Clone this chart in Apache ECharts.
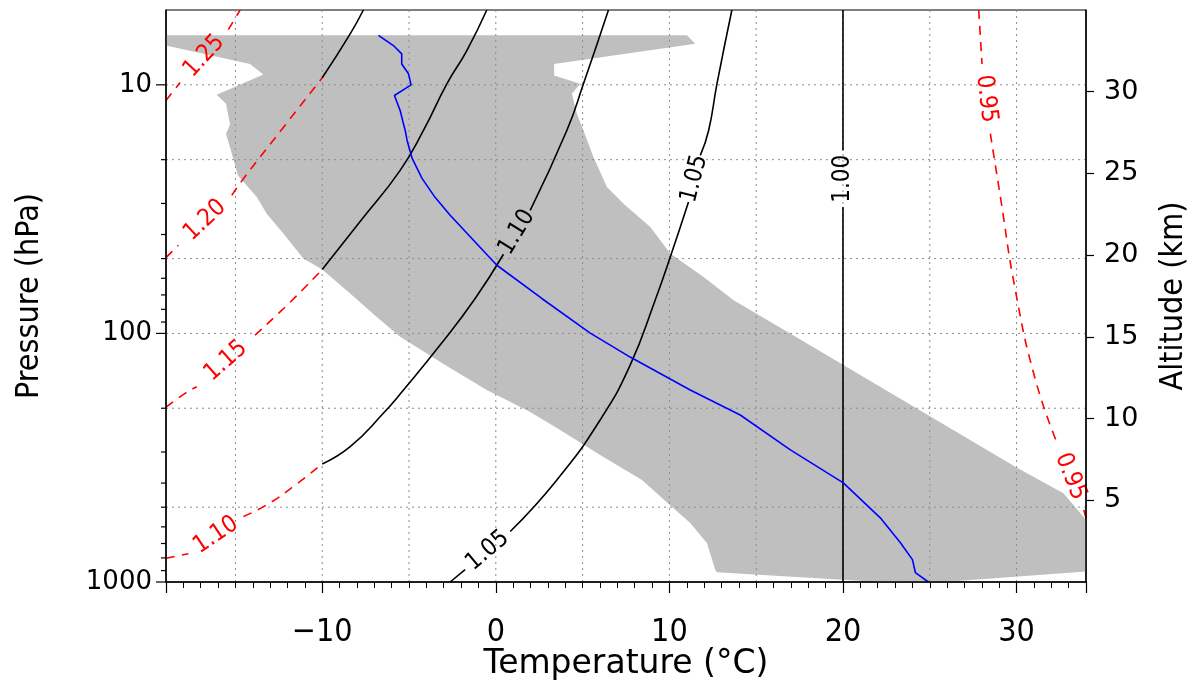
<!DOCTYPE html>
<html>
<head>
<meta charset="utf-8">
<title>Temperature profile</title>
<script src="https://cdn.jsdelivr.net/npm/echarts@6/dist/echarts.min.js"></script>
<style>
    html, body { margin: 0; padding: 0; background: #fff; }
    #chart { width: 1191px; height: 680px; }
</style>
</head>
<body>
<div id="chart"></div>
<script>
    // axis ranges
    const tMin = -19, tMax = 34;          // temperature (°C)
    const pTop = 5, pSfc = 1000;          // pressure (hPa)
    const zTop = 35;                      // altitude (km)

    // dotted grid lines and left-axis ticks
    const gridT = [-15, -10, -5, 0, 5, 10, 15, 20, 25, 30];
    const gridP = [10, 20, 50, 100, 200, 500];
    const pMajorTicks = [10, 100, 1000];
    const pMinorTicks = [20, 30, 40, 50, 60, 70, 80, 90, 200, 300, 400, 500, 600, 700, 800, 900];

    // grey envelope: left edge (top -> bottom), bottom edge, right edge (top -> bottom)
    const envLeft = [[-19, 6.32], [-19, 6.95], [-14.16, 8.24], [-13.39, 9.09], [-16.08, 10.97], [-15.54, 11.92],
        [-15.31, 14.43], [-15.54, 15.73], [-14.85, 23.14], [-13.77, 28.28], [-13.2, 32.97], [-12.24, 39.67],
        [-11.09, 50.0], [-10, 55.3], [-8.39, 69.1], [-6.86, 85.8], [-5.51, 103.2], [-2.92, 134.1], [-0.52, 168.9],
        [0.25, 179.7], [1.98, 207.1], [3.71, 244.6], [6.01, 308.2], [8.42, 388.4], [10.01, 489.4], [11.2, 579.4],
        [12.16, 697.3], [12.64, 892.6], [12.74, 913.1]];
    const envBottom = [[22.15, 1000], [26.19, 994.5], [34, 906.6]];
    const envRight = [[11.01, 6.32], [11.49, 6.84], [3.36, 8.24], [3.36, 9.18], [4.86, 9.91], [4.38, 10.87],
        [4.67, 13.08], [5.05, 15.26], [5.63, 19.54], [6.40, 25.78], [7.36, 30.06], [8.9, 37.32], [10.05, 47.7],
        [11.97, 59.25], [13.70, 73.5], [16.91, 99.7], [24.11, 197.7], [30.05, 347.5], [32.70, 439.1],
        [34, 562], [34, 906.6]];

    // blue temperature profile [T, p]
    const profile = [[-6.76, 6.32], [-5.90, 6.95], [-5.42, 7.51], [-5.42, 8.24], [-5.03, 9.03], [-4.88, 10],
        [-5.84, 11.04], [-5.51, 12.69], [-5.32, 14.35], [-5.22, 15.26], [-5.11, 16.74], [-4.82, 19.77],
        [-4.25, 23.79], [-3.50, 28.35], [-2.63, 33.49], [0.06, 53.19], [2.65, 72.35], [5.44, 99.7],
        [7.74, 124.5], [11.2, 169], [14.08, 212.9], [16.97, 294], [20.02, 399], [22.15, 552],
        [23.31, 695], [24.0, 813], [24.17, 916], [24.92, 1000]];

    // contour pieces, split where a label sits; red = dashed, black = solid
    const c125A = [[-19, 11.56], [-18.19, 9.79]];
    const c125B = [[-15.41, 6.0], [-14.73, 5]];
    const c120A = [[-19, 49.54], [-18.29, 44.2]];
    const c120B = [[-15.21, 27.83], [-14.54, 23.85], [-12.24, 14.84], [-10, 9.37]];
    const c115A = [[-19, 198.1], [-17.9, 174.2], [-17.23, 163.9]];
    const c115B = [[-13.87, 101.6], [-11.85, 74.9], [-10, 55.3]];
    const c110A = [[-19, 802.3], [-17.71, 769.9]];
    const c110B = [[-14.54, 545.2], [-13.2, 489.4], [-11.66, 413], [-10, 334.9]];
    const c095A = [[27.82, 5], [28.01, 8.24]];
    const c095B = [[28.49, 15.73], [29.07, 28.28], [29.93, 67.0], [31.09, 154], [32.34, 276.6]];
    const c095C = [[33.87, 512.6], [34.03, 562]];

    const c120S = [[-10, 9.37], [-8.39, 6.24], [-7.63, 5]];
    const c115S = [[-10, 55.3], [-7.76, 35.08], [-5.51, 22.09], [-4.17, 15.26], [-2.82, 9.91], [-1.67, 7.28], [-0.52, 5]];
    const c110SA = [[-10, 334.9], [-8.39, 285.4], [-6.48, 209.6], [-5.32, 168.9], [-3.21, 111.4], [-1.19, 72.35], [0.44, 48.03]];
    const c110SB = [[1.98, 31.98], [4.09, 15.26], [5.05, 9.91], [6.49, 5]];
    const c105A = [[-2.63, 1000], [-1.77, 892.6]];
    const c105B = [[0.83, 626.3], [3.52, 388.4], [6.01, 222.9], [7.74, 134.1], [9.18, 73.5], [10.05, 49.3], [11.10, 29.6]];
    const c105C = [[11.78, 19.23], [12.26, 15.26], [12.74, 9.91], [13.6, 5]];
    const c100A = [[20, 1000], [20, 31.01]];
    const c100B = [[20, 18.36], [20, 5]];

    const redPieces = [c125A, c125B, c120A, c120B, c115A, c115B, c110A, c110B, c095A, c095B, c095C];
    const blackPieces = [c120S, c115S, c110SA, c110SB, c105A, c105B, c105C, c100A, c100B];

    const last = a => a[a.length - 1];
    // labels sit in the gap between two pieces, written from -> to
    const redLabels = [
        {text: '1.25', from: last(c125A), to: c125B[0]},
        {text: '1.20', from: last(c120A), to: c120B[0]},
        {text: '1.15', from: last(c115A), to: c115B[0]},
        {text: '1.10', from: last(c110A), to: c110B[0]},
        {text: '0.95', from: last(c095A), to: c095B[0]},
        {text: '0.95', from: last(c095B), to: c095C[0]}
    ];
    const blackLabels = [
        {text: '1.10', from: last(c110SA), to: c110SB[0]},
        {text: '1.05', from: last(c105A), to: c105B[0]},
        {text: '1.05', from: last(c105B), to: c105C[0]},
        {text: '1.00', from: last(c100A), to: c100B[0]}
    ];

    let myChart = echarts.init(document.getElementById('chart'));

    const yFont = 'DejaVu Sans';
    const xFont = 'DejaVu Sans Condensed';

    function labelSeries(list, color) {
        return {
            type: 'custom', z: 6, silent: true,
            data: list.map(l => l.from),
            renderItem: function (params, api) {
                let l = list[params.dataIndex];
                let a = api.coord(l.from), b = api.coord(l.to);
                let ang = Math.atan2(b[1] - a[1], b[0] - a[0]);
                return {
                    type: 'text',
                    x: (a[0] + b[0]) / 2,
                    y: (a[1] + b[1]) / 2,
                    rotation: -ang,
                    style: {
                        text: l.text, fill: color,
                        font: '24px "' + xFont + '"',
                        align: 'center', verticalAlign: 'middle'
                    }
                };
            }
        };
    }

    let series = [];
    // grey envelope
    series.push({
        type: 'custom', z: 1, silent: true,
        data: [[tMin, pSfc]],
        renderItem: function (params, api) {
            let pts = envLeft.concat(envBottom, envRight.slice().reverse());
            return {
                type: 'polygon',
                shape: {points: pts.map(d => api.coord(d))},
                style: {fill: '#bfbfbf'}
            };
        }
    });
    // dotted grid
    series.push({
        type: 'custom', z: 2, silent: true,
        data: gridT.map(t => [t, pSfc]),
        renderItem: function (params, api) {
            let a = api.coord([api.value(0), pTop]), b = api.coord([api.value(0), pSfc]);
            return {type: 'line', shape: {x1: a[0], y1: a[1], x2: b[0], y2: b[1]},
                style: {stroke: '#8c8c8c', lineWidth: 1, lineDash: [2, 4]}};
        }
    });
    series.push({
        type: 'custom', z: 2, silent: true,
        data: gridP.map(p => [tMin, p]),
        renderItem: function (params, api) {
            let a = api.coord([tMin, api.value(1)]), b = api.coord([tMax, api.value(1)]);
            return {type: 'line', shape: {x1: a[0], y1: a[1], x2: b[0], y2: b[1]},
                style: {stroke: '#8c8c8c', lineWidth: 1, lineDash: [2, 4]}};
        }
    });
    // left axis ticks (log axis)
    series.push({
        type: 'custom', z: 7, silent: true,
        data: pMajorTicks.map(p => [tMin, p, 10]).concat(pMinorTicks.map(p => [tMin, p, 5])),
        renderItem: function (params, api) {
            let a = api.coord([tMin, api.value(1)]);
            return {type: 'line', shape: {x1: a[0], y1: a[1], x2: a[0] - api.value(2), y2: a[1]},
                style: {stroke: '#000', lineWidth: 1.2}};
        }
    });
    // contours
    redPieces.forEach(function (d) {
        series.push({type: 'line', data: d, z: 3, silent: true, symbol: 'none', smooth: 0.5,
            lineStyle: {color: '#ff0000', width: 1.6, type: [9, 7]}});
    });
    blackPieces.forEach(function (d) {
        series.push({type: 'line', data: d, z: 3, silent: true, symbol: 'none', smooth: 0.5,
            lineStyle: {color: '#000', width: 1.6}});
    });
    // temperature profile
    series.push({type: 'line', data: profile, z: 4, silent: true, symbol: 'none',
        lineStyle: {color: '#0000ff', width: 1.6}});
    series.push(labelSeries(redLabels, '#ff0000'));
    series.push(labelSeries(blackLabels, '#000'));

    let option = {
        animation: false,
        grid: {left: 166, top: 10, width: 920, height: 572, show: true, borderColor: '#000', borderWidth: 1,
            containLabel: false, outerBoundsMode: 'none'},
        xAxis: {
            type: 'value', min: tMin, max: tMax, splitNumber: 5, minInterval: 10, maxInterval: 10, z: 10,
            name: 'Temperature (°C)', nameLocation: 'middle', nameGap: 66, nameMoveOverlap: false,
            nameTextStyle: {fontFamily: yFont, fontSize: 33, color: '#000'},
            axisLine: {onZero: false, lineStyle: {color: '#000', width: 1.5}},
            axisTick: {length: 11, lineStyle: {color: '#000', width: 1.2}},
            minorTick: {show: true, splitNumber: 10, length: 6, lineStyle: {color: '#000', width: 1}},
            axisLabel: {
                margin: 35, fontFamily: xFont, fontSize: 32, color: '#000',
                showMinLabel: false, showMaxLabel: false,
                formatter: v => (v < 0 ? '\u2212' + Math.abs(v) : String(v))
            },
            splitLine: {show: false}
        },
        yAxis: [{
            type: 'log', logBase: 10, min: pTop, max: pSfc, inverse: true, z: 10,
            name: 'Pressure (hPa)', nameLocation: 'middle', nameGap: 120, nameRotate: 90, nameMoveOverlap: false,
            nameTextStyle: {fontFamily: xFont, fontSize: 32, color: '#000'},
            axisLine: {show: true, onZero: false, lineStyle: {color: '#000', width: 1.5}},
            axisTick: {show: false},
            axisLabel: {margin: 14, fontFamily: yFont, fontSize: 26, color: '#000', showMinLabel: false,
                formatter: v => String(Math.round(v))},
            splitLine: {show: false}
        }, {
            type: 'value', min: 0, max: zTop, interval: 5, position: 'right', z: 10,
            name: 'Altitude (km)', nameLocation: 'middle', nameGap: 72, nameRotate: 90, nameMoveOverlap: false,
            nameTextStyle: {fontFamily: xFont, fontSize: 32, color: '#000'},
            axisLine: {show: true, onZero: false, lineStyle: {color: '#000', width: 1.5}},
            axisTick: {length: 8, lineStyle: {color: '#000', width: 1.2}},
            axisLabel: {margin: 18, fontFamily: yFont, fontSize: 27, color: '#000',
                showMinLabel: false, showMaxLabel: false},
            splitLine: {show: false}
        }],
        series: series
    };
    myChart.setOption(option);
</script>
</body>
</html>
